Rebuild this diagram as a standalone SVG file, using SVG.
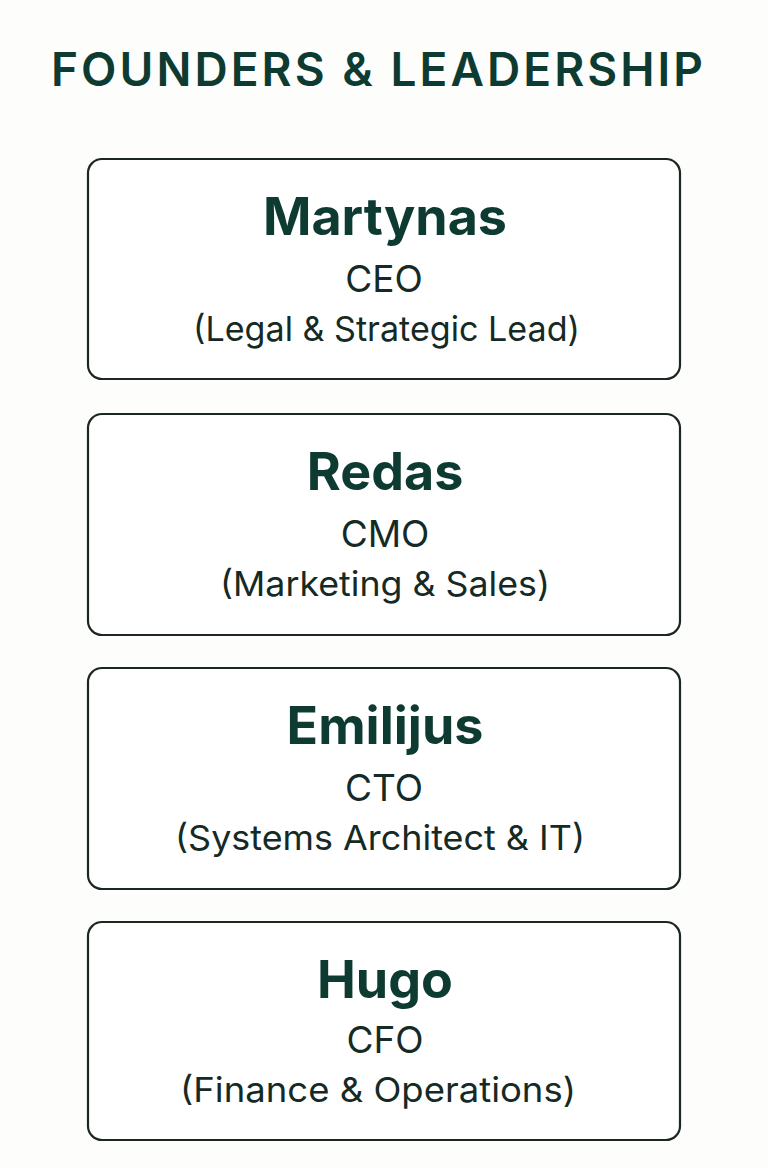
<svg xmlns="http://www.w3.org/2000/svg" width="768" height="1167" viewBox="0 0 768 1167">
<style>
.box{fill:#ffffff;stroke:#1c2623;stroke-width:2.2}
.title{font-family:Inter,"Liberation Sans",sans-serif;font-size:46px;font-weight:600;fill:#0e3b31}
.name{font-family:Inter,"Liberation Sans",sans-serif;font-size:52px;font-weight:700;fill:#0e3b31;text-anchor:middle}
.role{font-family:Inter,"Liberation Sans",sans-serif;font-size:37px;font-weight:400;fill:#152a24;text-anchor:middle}
.sub{font-family:Inter,"Liberation Sans",sans-serif;font-size:34.5px;font-weight:400;fill:#152a24;text-anchor:middle}
</style>
<rect width="768" height="1167" fill="#fdfdfb"/>
<text class="title" x="51" y="86" textLength="652" lengthAdjust="spacing">FOUNDERS &amp; LEADERSHIP</text>
<g id="martynas">
<rect class="box" x="88" y="159" width="592" height="220" rx="14"/>
<text class="name" x="385" y="235">Martynas</text>
<text class="role" x="384" y="292">CEO</text>
<text class="sub" x="386.5" y="341" textLength="387" lengthAdjust="spacingAndGlyphs">(Legal &amp; Strategic Lead)</text>
</g>
<g id="redas">
<rect class="box" x="88" y="414" width="592" height="221" rx="14"/>
<text class="name" x="385" y="490">Redas</text>
<text class="role" x="385" y="547">CMO</text>
<text class="sub" x="385" y="596" textLength="330" lengthAdjust="spacingAndGlyphs">(Marketing &amp; Sales)</text>
</g>
<g id="emilijus">
<rect class="box" x="88" y="668" width="592" height="221" rx="14"/>
<text class="name" x="385" y="744">Emilijus</text>
<text class="role" x="384" y="801">CTO</text>
<text class="sub" x="380" y="850" textLength="410" lengthAdjust="spacingAndGlyphs">(Systems Architect &amp; IT)</text>
</g>
<g id="hugo">
<rect class="box" x="88" y="922" width="592" height="218" rx="14"/>
<text class="name" x="385" y="998">Hugo</text>
<text class="role" x="385" y="1053">CFO</text>
<text class="sub" x="378" y="1102" textLength="396" lengthAdjust="spacingAndGlyphs">(Finance &amp; Operations)</text>
</g>
<g id="connectors"></g>
</svg>
